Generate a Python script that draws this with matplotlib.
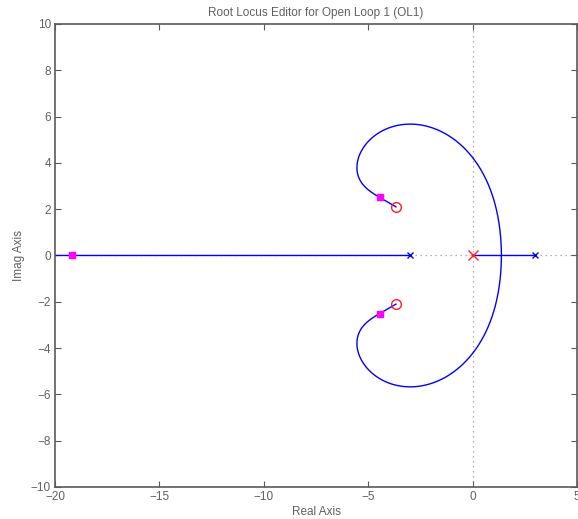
import numpy as np
import matplotlib.pyplot as plt

plt.rcParams['font.family'] = ['Liberation Sans', 'DejaVu Sans']

# open loop data
plant_poles = [-3.0, 3.0]
comp_poles = [0.0]
comp_zeros = [complex(-3.67, 2.10), complex(-3.67, -2.10)]
gain = 28.1

x_ticks = [-20, -15, -10, -5, 0, 5]
y_ticks = [-10, -8, -6, -4, -2, 0, 2, 4, 6, 8, 10]

poles = plant_poles + comp_poles
den = np.poly(poles).real
num = np.poly(comp_zeros).real


def cl_roots(k):
    return np.roots(np.polyadd(den, k * num))


# root locus, branches tracked by nearest root
ks = np.concatenate([[0.0], np.logspace(-3, 4.5, 4000)])
prev = np.roots(den)
track = [prev]
for k in ks[1:]:
    avail = list(cl_roots(k))
    cur = []
    for p in prev:
        i = int(np.argmin([abs(a - p) for a in avail]))
        cur.append(avail.pop(i))
    prev = np.array(cur)
    track.append(prev)
track = np.array(track)

cl = cl_roots(gain)

fig = plt.figure(figsize=(5.78, 5.19), dpi=100)
ax = fig.add_axes([0.0952, 0.0617, 0.9031, 0.8921])

gray = '#5a5a5a'
txt = '#606060'
ax.axhline(0, color='#999999', ls=(0, (1, 3)), lw=0.9, zorder=1)
ax.axvline(0, color='#999999', ls=(0, (1, 3)), lw=0.9, zorder=1)

for j in range(track.shape[1]):
    ax.plot(track[:, j].real, track[:, j].imag, color='#0000ff', lw=1.0, zorder=2)

ax.plot(np.real(plant_poles), np.imag(plant_poles), 'x', color='#0000ff', ms=5, mew=1.0, zorder=3)
ax.plot(np.real(comp_poles), np.imag(comp_poles), 'x', color='#ff2020', ms=7, mew=1.0, zorder=3)
ax.plot(np.real(comp_zeros), np.imag(comp_zeros), 'o', mfc='none', mec='#ff2020', ms=7, mew=1.0, zorder=3)
ax.plot(cl.real, cl.imag, 's', color='#ff00ff', ms=5, zorder=4)

ax.set_xlim(-20, 5)
ax.set_ylim(-10, 10)
ax.set_xticks(x_ticks)
ax.set_yticks(y_ticks)
ax.tick_params(direction='in', top=True, right=True, length=4, width=0.8,
               colors=gray, labelsize=8.5, labelcolor=txt, pad=3)
for s in ax.spines.values():
    s.set_color(gray)
    s.set_linewidth(1.2)

ax.set_title('Root Locus Editor for Open Loop 1 (OL1)', fontsize=8.5, color=txt, pad=6)
ax.set_xlabel('Real Axis', fontsize=8.5, color=txt, labelpad=2)
ax.set_ylabel('Imag Axis', fontsize=8.5, color=txt, labelpad=4)

fig.savefig('out.png', dpi=100)
